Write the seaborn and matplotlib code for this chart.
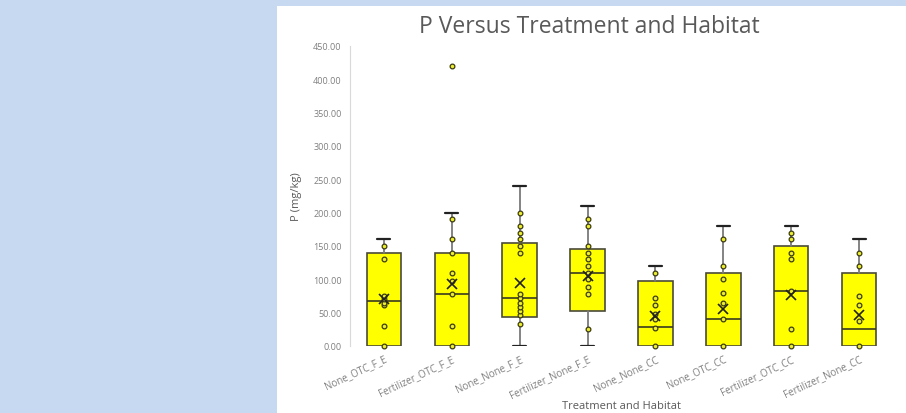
import matplotlib
matplotlib.use("Agg")
import matplotlib.pyplot as plt
import pandas as pd
import seaborn as sns

# Treatment / habitat groups
groups = ["None_OTC_F_E", "Fertilizer_OTC_F_E", "None_None_F_E", "Fertilizer_None_F_E",
          "None_None_CC", "None_OTC_CC", "Fertilizer_OTC_CC", "Fertilizer_None_CC"]

# Individual P measurements (mg/kg) per group
p_none_otc_fe = [0, 30, 62, 65, 70, 75, 130, 150]
p_fert_otc_fe = [0, 30, 78, 98, 110, 140, 160, 190, 420]
p_none_none_fe = [33, 46, 53, 59, 65, 72, 78, 140, 150, 160, 170, 180, 200]
p_fert_none_fe = [25, 78, 88, 100, 110, 120, 130, 140, 150, 180, 190]
p_none_none_cc = [0, 27, 40, 48, 62, 72, 110]
p_none_otc_cc = [0, 41, 65, 80, 100, 120, 160]
p_fert_otc_cc = [0, 25, 82, 130, 140, 160, 170]
p_fert_none_cc = [0, 38, 62, 75, 120, 140]

# Box summary per group
whisker_low = [0, 0, 0, 0, 0, 0, 0, 0]
q1 = [0, 0, 43, 53, 0, 0, 0, 0]
medians = [67, 78, 72, 110, 28, 41, 82, 25]
q3 = [140, 140, 154, 145, 97, 110, 150, 110]
whisker_high = [160, 200, 240, 210, 120, 180, 180, 160]
means = [70, 93, 95, 105, 45, 55, 76, 46]

y_ticks = [0, 50, 100, 150, 200, 250, 300, 350, 400, 450]

point_lists = [p_none_otc_fe, p_fert_otc_fe, p_none_none_fe, p_fert_none_fe,
               p_none_none_cc, p_none_otc_cc, p_fert_otc_cc, p_fert_none_cc]
df = pd.DataFrame({
    "group": [g for g, vals in zip(groups, point_lists) for _ in vals],
    "P": [v for vals in point_lists for v in vals],
})

sns.set_theme(style="white")
plt.rcParams["font.family"] = ["Open Sans", "DejaVu Sans"]

fig = plt.figure(figsize=(9.06, 4.14), dpi=100)
fig.patch.set_facecolor("white")
# light blue frame on the left and top
fig.patches.append(plt.Rectangle((0, 0), 277 / 906, 1, transform=fig.transFigure,
                                 facecolor="#c6d9f1", edgecolor="none", zorder=0))
fig.patches.append(plt.Rectangle((0, 1 - 7 / 414), 1, 7 / 414, transform=fig.transFigure,
                                 facecolor="#c6d9f1", edgecolor="none", zorder=0))

ax = fig.add_axes([350 / 906, 1 - 347 / 414, (893 - 350) / 906, 300 / 414])
ax.set_facecolor("none")

stats = [dict(whislo=wl, q1=a, med=m, q3=b, whishi=wh, mean=mu, fliers=[])
         for wl, a, m, b, wh, mu in zip(whisker_low, q1, medians, q3, whisker_high, means)]
res = ax.bxp(stats, positions=range(len(groups)), widths=0.51, capwidths=0.19,
             showmeans=True, patch_artist=True, manage_ticks=False,
             boxprops=dict(facecolor="#ffff00", edgecolor="#4a4a3a", linewidth=1.2),
             medianprops=dict(color="#3a3a20", linewidth=1.2),
             whiskerprops=dict(color="#7a7a7a", linewidth=1.3),
             capprops=dict(color="#222222", linewidth=1.6),
             meanprops=dict(marker="x", markeredgecolor="#222222", markersize=7,
                            markeredgewidth=1.2))
# lower caps are hidden when the box already reaches the lower whisker
for i in range(len(groups)):
    if q1[i] == whisker_low[i]:
        res["caps"][2 * i].set_visible(False)
for line in res["means"]:
    line.set_zorder(4)

sns.stripplot(data=df, x="group", y="P", order=groups, jitter=False, ax=ax,
              marker="o", size=3.4, color="#eeee30", edgecolor="#3a3a10", linewidth=0.9,
              zorder=3, clip_on=False)

ax.set_xlim(-0.5, len(groups) - 0.5)
ax.set_ylim(0, 450)
ax.set_yticks(y_ticks)
ax.set_yticklabels([f"{v:.2f}" for v in y_ticks], fontsize=6.5, color="#7f7f7f")
ax.set_xticks(range(len(groups)))
ax.set_xticklabels(groups, rotation=25, ha="right", rotation_mode="anchor",
                   fontsize=7, color="#7f7f7f")
ax.tick_params(axis="both", length=0, pad=6)
ax.tick_params(axis="x", pad=5)

for side in ["top", "right", "bottom"]:
    ax.spines[side].set_visible(False)
ax.spines["left"].set_color("#d9d9d9")
ax.spines["left"].set_linewidth(0.8)

ax.set_ylabel("P (mg/kg)", fontsize=8, color="#595959", labelpad=8)
ax.set_xlabel("")
fig.text(621 / 906, 1 - 412 / 414, "Treatment and Habitat", ha="center", va="bottom",
         fontsize=8, color="#595959")
fig.text(589 / 906, 1 - 27 / 414, "P Versus Treatment and Habitat", ha="center",
         va="center", fontsize=16.5, color="#595959")

fig.savefig("out.png", dpi=100)
